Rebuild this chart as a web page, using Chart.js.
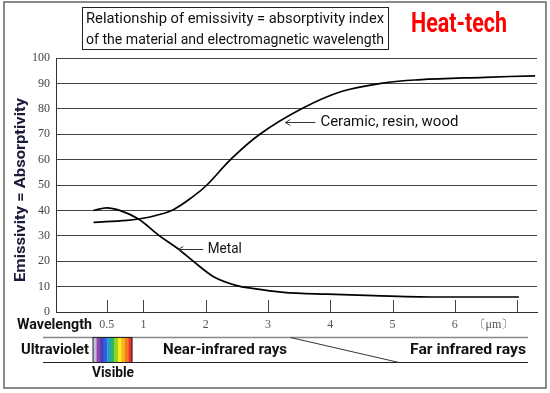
<!DOCTYPE html>
<html>
<head>
<meta charset="utf-8">
<script src="https://cdn.jsdelivr.net/npm/chart.js@4.4.1/dist/chart.umd.min.js"></script>
<style>
html,body{margin:0;padding:0;background:#fff;}
#wrap{width:550px;height:393px;position:relative;}
</style>
</head>
<body>
<div id="wrap"><canvas id="c" width="550" height="393"></canvas></div>
<script>
// ---- data ----
const ceramicWavelength = [0.20, 0.74, 0.92, 1.20, 1.48, 1.80, 2.02, 2.40, 2.87, 3.54, 4.18, 4.87, 5.41, 6.48, 7.29];
const ceramicValues     = [35.3, 36.1, 36.6, 38.0, 40.3, 45.5, 50.0, 60.0, 70.0, 80.0, 86.8, 90.2, 91.4, 92.4, 93.0];
const metalWavelength   = [0.20, 0.41, 0.63, 0.92, 1.27, 1.54, 1.80, 2.12, 2.50, 2.75, 3.25, 3.95, 4.70, 5.77, 7.03];
const metalValues       = [40.0, 41.0, 39.9, 36.6, 29.8, 25.2, 20.0, 14.0, 10.4, 9.3, 7.75, 7.0, 6.45, 5.9, 5.9];
const xTickValues = [0.41, 1, 2, 3, 4, 5, 6, 6.62];
const xTickLabels = ['0.5', '1', '2', '3', '4', '5', '6', '〔μm〕'];
const xTickMarks  = [0.41, 1, 2, 3, 4, 5, 6, 7];
const yTicks = [0, 10, 20, 30, 40, 50, 60, 70, 80, 90, 100];
const titleLines = ['Relationship of emissivity = absorptivity index', 'of the material and electromagnetic wavelength'];
const brandText = 'Heat-tech';
const yTitle = 'Emissivity = Absorptivity';
const seriesNames = ['Ceramic, resin, wood', 'Metal'];
const annotationPoints = [[3.28, 74.8], [1.56, 24.8]];
const bandLabels = ['Wavelength', 'Ultraviolet', 'Near-infrared rays', 'Far infrared rays', 'Visible'];
const spectrumColors = ['#c8b9e3','#8f45ad','#4a3db8','#2c63d8','#1da0d8','#2db84a','#8fd12a','#f5ee1a','#f7b21c','#f47a22','#e8302a'];

function fitText(ctx, text, x, yc, width, font, color) {
  ctx.save();
  ctx.font = font;
  ctx.fillStyle = color;
  ctx.textBaseline = 'middle';
  ctx.textAlign = 'left';
  const w = ctx.measureText(text).width;
  ctx.translate(x, yc);
  ctx.scale(width / w, 1);
  ctx.fillText(text, 0, 0);
  ctx.restore();
}
function line(ctx, x1, y1, x2, y2, color, w) {
  ctx.save();
  ctx.strokeStyle = color; ctx.lineWidth = w;
  ctx.beginPath(); ctx.moveTo(x1, y1); ctx.lineTo(x2, y2); ctx.stroke();
  ctx.restore();
}

const decor = {
  id: 'decor',
  afterDraw(chart) {
    const ctx = chart.ctx;
    const xs = chart.scales.x, ys = chart.scales.y;
    const area = chart.chartArea;
    const F = 'Roboto, "Liberation Sans", sans-serif';
    // tick marks inside plot
    xTickMarks.forEach(v => {
      const px = Math.round(xs.getPixelForValue(v)) + 0.5;
      line(ctx, px, area.bottom, px, area.bottom - 12, '#444', 1);
    });
    // outer frame
    ctx.save(); ctx.strokeStyle = '#666'; ctx.lineWidth = 1.5;
    ctx.strokeRect(4, 2, 542, 386); ctx.restore();
    // title box
    ctx.save(); ctx.strokeStyle = '#222'; ctx.lineWidth = 1;
    ctx.strokeRect(82.5, 7.5, 306, 42); ctx.restore();
    fitText(ctx, titleLines[0], 86, 19.5, 298, '14px ' + F, '#111');
    fitText(ctx, titleLines[1], 86, 40.5, 298, '14px ' + F, '#111');
    fitText(ctx, brandText, 411, 25.5, 96, 'bold 27px ' + F, '#ff0000');
    // y title
    ctx.save();
    ctx.translate(21, 190); ctx.rotate(-Math.PI / 2);
    fitText(ctx, yTitle, -92, 0, 184, 'bold 15px ' + F, '#1a1a3a');
    ctx.restore();
    // annotations
    const c = annotationPoints[0], m = annotationPoints[1];
    [[c, 30, 35, 138, seriesNames[0]], [m, 25, 29.5, 34, seriesNames[1]]].forEach(a => {
      const tx = xs.getPixelForValue(a[0][0]), ty = Math.round(ys.getPixelForValue(a[0][1])) + 0.5;
      line(ctx, tx, ty, tx + a[1], ty, '#333', 1);
      ctx.save(); ctx.strokeStyle = '#333'; ctx.lineWidth = 1;
      ctx.beginPath(); ctx.moveTo(tx + 5, ty - 3); ctx.lineTo(tx, ty); ctx.lineTo(tx + 5, ty + 3); ctx.stroke(); ctx.restore();
      fitText(ctx, a[4], tx + a[2], ty, a[3], '15px ' + F, '#111');
    });
    // wavelength band
    fitText(ctx, bandLabels[0], 17, 325, 75, 'bold 15px ' + F, '#111');
    line(ctx, 43, 337.5, 528, 337.5, '#888', 1.5);
    line(ctx, 43, 362.5, 528, 362.5, '#222', 1.2);
    fitText(ctx, bandLabels[1], 21, 350, 68, 'bold 15px ' + F, '#111');
    const sx = 93, sw = 39, sh = 25;
    const stripe = sw / spectrumColors.length;
    spectrumColors.forEach((col, i) => {
      ctx.fillStyle = col;
      ctx.fillRect(sx + i * stripe, 337.5, stripe + 0.3, sh);
    });
    ctx.save(); ctx.strokeStyle = '#222'; ctx.lineWidth = 1;
    ctx.strokeRect(sx, 337.5, sw, sh); ctx.restore();
    fitText(ctx, bandLabels[2], 163, 350, 124, 'bold 15px ' + F, '#111');
    line(ctx, 290.5, 337.5, 399, 362.5, '#333', 1);
    fitText(ctx, bandLabels[3], 410, 350, 116, 'bold 15px ' + F, '#111');
    fitText(ctx, bandLabels[4], 92, 373.5, 42, 'bold 15px ' + F, '#111');
  }
};

new Chart(document.getElementById('c'), {
  type: 'line',
  data: {
    datasets: [
      { label: seriesNames[0], data: ceramicWavelength.map((x, i) => ({x, y: ceramicValues[i]})),
        borderColor: '#000', borderWidth: 1.7, pointRadius: 0, tension: 0.4, fill: false },
      { label: seriesNames[1], data: metalWavelength.map((x, i) => ({x, y: metalValues[i]})),
        borderColor: '#000', borderWidth: 1.7, pointRadius: 0, cubicInterpolationMode: 'monotone', fill: false }
    ]
  },
  options: {
    responsive: false,
    devicePixelRatio: 1,
    animation: false,
    layout: { padding: { left: 0, top: 58, right: 13, bottom: 0 } },
    plugins: { legend: { display: false }, title: { display: false }, tooltip: { enabled: false } },
    scales: {
      x: {
        type: 'linear', min: -0.403, max: 7.32,
        grid: { display: false, drawTicks: false },
        border: { display: true, color: '#333', width: 1 },
        afterBuildTicks: s => { s.ticks = xTickValues.map(v => ({ value: v })); },
        afterFit: s => { s.height = 81; },
        ticks: {
          autoSkip: false, maxRotation: 0, padding: 6, color: '#555',
          font: { family: '"Liberation Serif", serif', size: 12 },
          callback: (v, i) => xTickLabels[i]
        }
      },
      y: {
        min: 0, max: 100,
        afterBuildTicks: s => { s.ticks = yTicks.map(v => ({ value: v })); },
        afterFit: s => { s.width = 56; },
        grid: { color: '#444', drawTicks: false, lineWidth: 1 },
        border: { display: true, color: '#333', width: 1 },
        ticks: { padding: 6, color: '#444', font: { family: '"Liberation Serif", serif', size: 12 } }
      }
    }
  },
  plugins: [decor]
});
</script>
</body>
</html>
